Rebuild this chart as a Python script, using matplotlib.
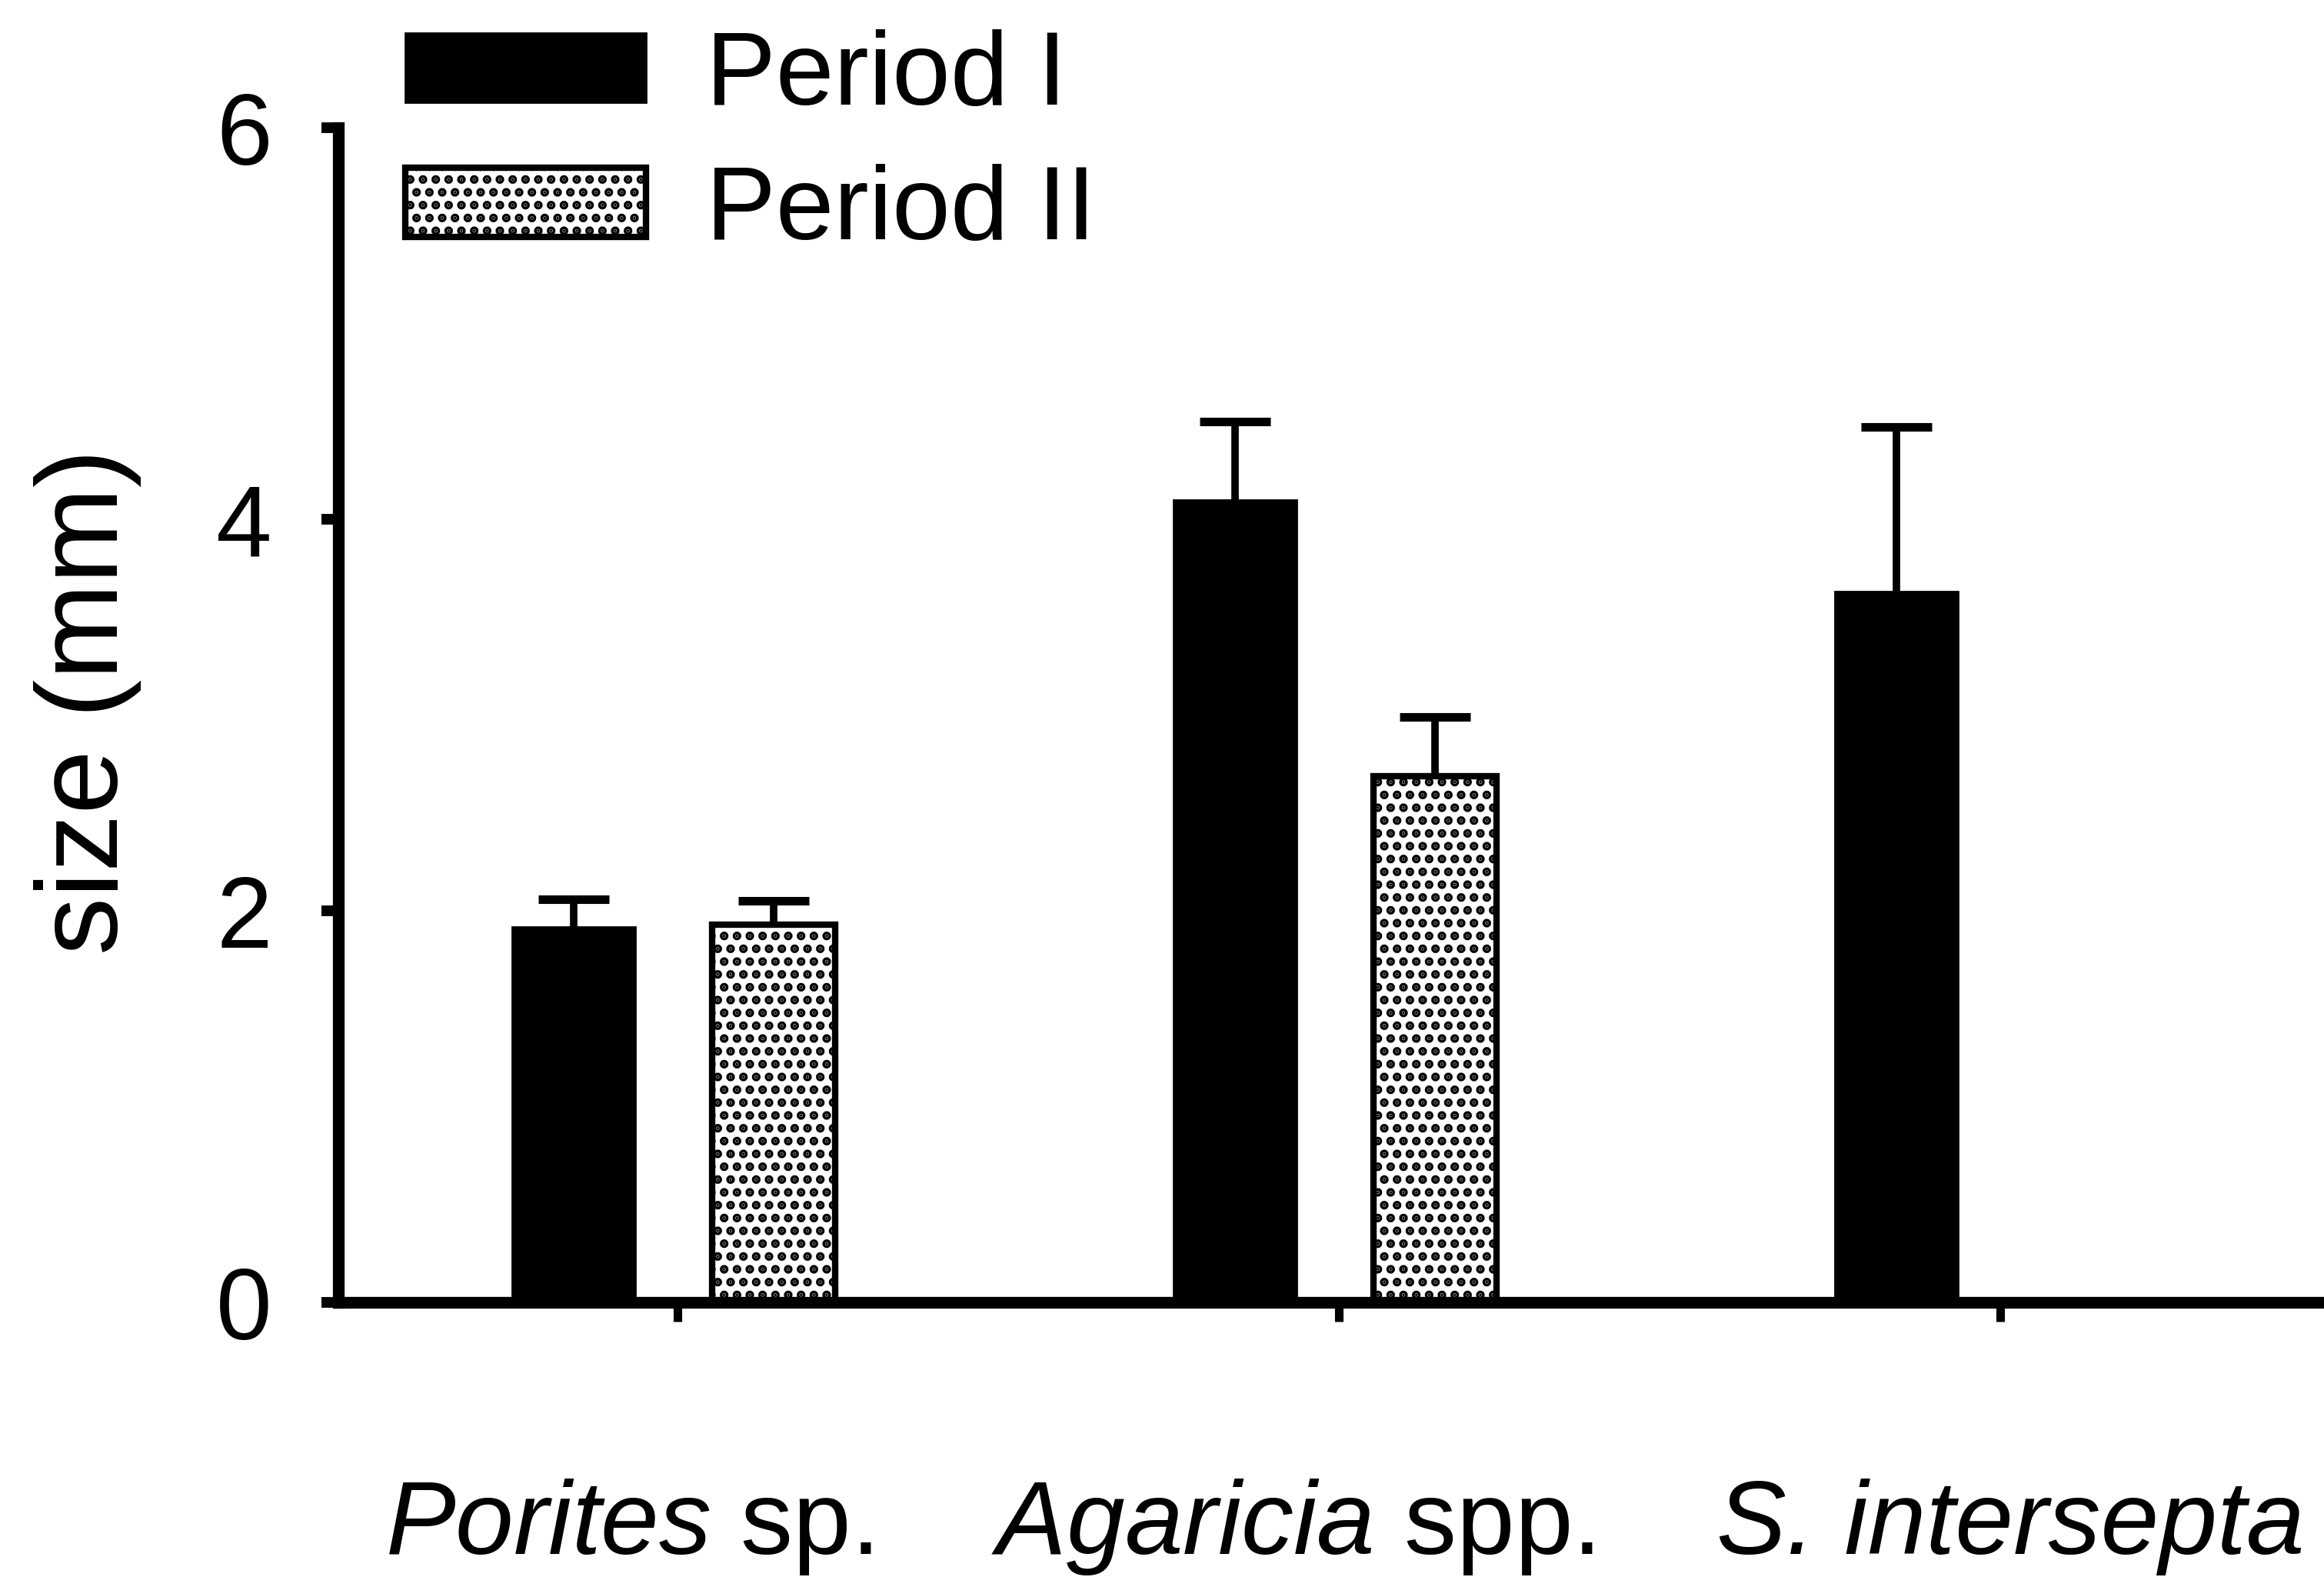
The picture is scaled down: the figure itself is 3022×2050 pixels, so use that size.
import matplotlib
matplotlib.use("Agg")
import matplotlib.pyplot as plt
import numpy as np

# coral size per taxon, mean + SE (mm)
taxa = [r"$\mathit{Porites}$ sp.", r"$\mathit{Agaricia}$ spp.", "S. intersepta"]
taxa_style = ["normal", "normal", "italic"]
period1_mean = [1.92, 4.10, 3.63]
period1_se = [0.14, 0.40, 0.84]
period2_mean = [1.93, 2.69, np.nan]
period2_se = [0.12, 0.30, np.nan]
yticks = [0, 2, 4, 6]
label_shift = [-0.074, -0.070, 0.016]

plt.rcParams["font.family"] = ["Liberation Sans", "DejaVu Sans"]
plt.rcParams["mathtext.fontset"] = "custom"
plt.rcParams["mathtext.rm"] = "Liberation Sans"
plt.rcParams["mathtext.it"] = "Liberation Sans:italic"
plt.rcParams["hatch.linewidth"] = 2.8

fig = plt.figure(figsize=(15.11, 10.25), dpi=200)
ax = fig.add_axes([0.1456, 0.174, 0.8544, 0.745])

x = np.arange(len(taxa))
w = 0.186
err_kw = dict(ecolor="black", elinewidth=3.5, capsize=16.5, capthick=4)

ax.bar(x - 0.157, period1_mean, w, color="black", edgecolor="black", linewidth=1,
       label="Period I", zorder=3)
eb1 = ax.errorbar(x - 0.157, period1_mean, yerr=[np.zeros(3), period1_se], fmt="none",
                  zorder=2, **err_kw)
ax.bar(x + 0.145, period2_mean, w, color="white", edgecolor="black", linewidth=3,
       hatch="..", label="Period II", zorder=3)
eb2 = ax.errorbar(x + 0.145, period2_mean, yerr=[np.zeros(3), period2_se], fmt="none",
                  zorder=2, **err_kw)
# only the upper caps
eb1[1][0].set_visible(False)
eb2[1][0].set_visible(False)

ax.set_xlim(-0.513, 2.49)
ax.set_ylim(0, 6)
ax.set_yticks(yticks)
ax.set_xticks(x)
ax.set_xticklabels([])

for xi, name, st, dx in zip(x, taxa, taxa_style, label_shift):
    ax.text(xi + dx, -0.214, name, transform=ax.get_xaxis_transform(),
            ha="center", va="baseline", fontsize=49, fontstyle=st)

for s in ["top", "right"]:
    ax.spines[s].set_visible(False)
ax.spines["left"].set_linewidth(5.5)
ax.spines["bottom"].set_linewidth(5.5)
ax.spines["left"].set_zorder(4)
ax.spines["bottom"].set_zorder(4)

ax.tick_params(axis="y", direction="out", length=8, width=5, pad=23, labelsize=47)
ax.tick_params(axis="x", direction="out", length=9, width=4)

fig.text(114 / 3022, 1 - 912 / 2050, "size (mm)", rotation=90, ha="center",
         va="center", fontsize=54)

ax.legend(loc="upper left", bbox_to_anchor=(0.170, 0.988), bbox_transform=fig.transFigure,
          frameon=False, fontsize=49, handlelength=2.3, handleheight=0.64,
          handletextpad=0.57, labelspacing=0.36, borderpad=0.1, borderaxespad=0)

fig.savefig("out.png", dpi=200, facecolor="white")
